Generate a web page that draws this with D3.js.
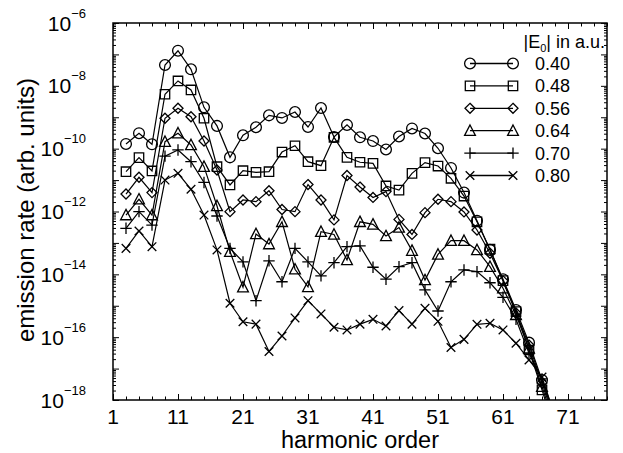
<!DOCTYPE html>
<html><head><meta charset="utf-8">
<script src="https://cdn.jsdelivr.net/npm/d3@7"></script>
<style>
body{margin:0;background:#fff;}
svg{display:block;font-family:"Liberation Sans",Arial,Helvetica,sans-serif;}
</style></head>
<body><svg id="c" width="623" height="453"></svg>
<script>
// harmonic orders (odd)
const harmonics = [3,5,7,9,11,13,15,17,19,21,23,25,27,29,31,33,35,37,39,41,43,45,47,49,51,53,55,57,59,61,63,65,67,69];
const fieldLabels = ["0.40","0.48","0.56","0.64","0.70","0.80"];
const symbols = ["circle","square","diamond","triangle","plus","cross"];
const rate040 = [1.41e-10,3.1e-10,1.38e-10,4.6e-8,1.31e-7,3.36e-8,2.07e-9,5.3e-10,5.3e-11,2.67e-10,4.8e-10,1.15e-9,9.5e-10,1.47e-9,4.9e-10,1.97e-9,2.35e-10,5.7e-10,2.3e-10,1.75e-10,9.4e-11,2.44e-10,4.4e-10,3.04e-10,1.03e-10,2.43e-11,4.0e-12,5.1e-13,6.0e-14,7.0e-15,7.3e-16,6.7e-17,4.3e-18,2.5e-19];
const rate048 = [1.85e-11,5.2e-11,1.95e-11,5.4e-9,1.43e-8,7.4e-9,9.3e-10,2.67e-11,7.0e-12,1.99e-11,1.77e-11,1.85e-11,7.8e-11,1.24e-10,3.85e-11,2.87e-11,2.3e-10,5.3e-11,3.7e-11,3.4e-11,6.5e-12,4.8e-12,1.64e-11,3.6e-11,2.8e-11,1.14e-11,3.1e-12,4.7e-13,6.3e-14,6.3e-15,6.5e-16,3.9e-17,2.1e-18,1.0e-19];
const rate056 = [3.6e-12,1.23e-11,4.0e-12,9.3e-10,1.93e-9,1.04e-9,1.75e-10,2.1e-11,9.9e-13,2.33e-12,2.06e-12,4.6e-12,1.16e-12,9.9e-13,7.2e-12,2.33e-12,5.4e-13,1.4e-11,6.0e-12,2.8e-12,4.3e-12,5.6e-13,1.86e-13,9.2e-13,2.45e-12,2.06e-12,9.7e-13,2.58e-13,4.7e-14,6.2e-15,5.9e-16,5.6e-17,3.5e-18,2.0e-19];
const rate064 = [7.7e-13,2.45e-12,7.7e-13,1.67e-10,3.1e-10,1.31e-10,2.67e-11,1.5e-12,5.3e-14,3.9e-15,1.93e-13,9.2e-14,4.7e-13,1.45e-14,4.0e-15,2.28e-13,1.86e-13,2.86e-14,4.7e-13,3.9e-13,1.66e-13,3.1e-13,5.7e-14,6.6e-15,4.3e-14,1.18e-13,1.18e-13,6.0e-14,1.75e-14,3.6e-15,5.1e-16,4.4e-17,2.65e-18,1.5e-19];
const rate070 = [2.92e-13,9.9e-13,3.7e-13,5.8e-11,9.1e-11,3.85e-11,8.4e-12,7.2e-13,6.7e-14,2.5e-14,1.45e-15,2.7e-14,5.8e-15,6.7e-14,2.5e-14,8.9e-15,2.35e-14,7.6e-14,8.0e-14,1.68e-14,7.0e-15,1.75e-14,2.35e-14,3.2e-15,6.8e-16,5.8e-15,1.38e-14,1.22e-14,5.4e-15,1.86e-15,3.7e-16,3.1e-17,4.7e-18,3.0e-19];
const rate080 = [6.7e-14,2.4e-13,7.6e-14,1.0e-11,1.64e-11,5.1e-12,7.7e-13,6.0e-14,1.2e-15,3.1e-16,2.6e-16,3.5e-17,1.09e-16,4.1e-16,1.45e-15,5.5e-16,2.07e-16,1.7e-16,2.6e-16,3.7e-16,2.27e-16,7.0e-16,2.6e-16,8.3e-16,3.2e-16,4.7e-17,8.5e-17,2.57e-16,2.77e-16,1.7e-16,6.4e-17,1.88e-17,5.4e-18,3.0e-19];
const seriesValues = [rate040,rate048,rate056,rate064,rate070,rate080];
const xTickLabels = [1,11,21,31,41,51,61,71];
const yLabelExponents = [-6,-8,-10,-12,-14,-16,-18];

const svg = d3.select("#c");
const L=113,R=607,T=23,B=400;
const x = d3.scaleLinear().domain([1,77]).range([L,R]);
const y = d3.scaleLog().domain([1e-18,1e-6]).range([B,T]);

svg.append("defs").append("clipPath").attr("id","clip")
  .append("rect").attr("x",L).attr("y",T).attr("width",R-L).attr("height",B-T);

const majorY = d3.range(-18,-5).map(e=>Math.pow(10,e));
const minorY = [];
for(let e=-18;e<-6;e++) for(let k=2;k<=9;k++) minorY.push(k*Math.pow(10,e));
const oddX = d3.range(1,78,2);
const majX = xTickLabels;
const minX = oddX.filter(v=>!majX.includes(v));

function styleAxis(g){ g.select(".domain").remove(); g.selectAll("line").attr("stroke","#000").attr("stroke-width",1); g.selectAll("text").remove(); }
svg.append("g").attr("transform",`translate(${L},0)`).call(d3.axisLeft(y).tickValues(majorY).tickSize(-6).tickFormat("")).call(styleAxis);
svg.append("g").attr("transform",`translate(${L},0)`).call(d3.axisLeft(y).tickValues(minorY).tickSize(-3).tickFormat("")).call(styleAxis);
svg.append("g").attr("transform",`translate(${R},0)`).call(d3.axisRight(y).tickValues(majorY).tickSize(-6).tickFormat("")).call(styleAxis);
svg.append("g").attr("transform",`translate(${R},0)`).call(d3.axisRight(y).tickValues(minorY).tickSize(-3).tickFormat("")).call(styleAxis);
svg.append("g").attr("transform",`translate(0,${B})`).call(d3.axisBottom(x).tickValues(majX).tickSize(-6).tickFormat("")).call(styleAxis);
svg.append("g").attr("transform",`translate(0,${B})`).call(d3.axisBottom(x).tickValues(minX).tickSize(-3.5).tickFormat("")).call(styleAxis);
svg.append("g").attr("transform",`translate(0,${T})`).call(d3.axisTop(x).tickValues(majX).tickSize(-6).tickFormat("")).call(styleAxis);
svg.append("g").attr("transform",`translate(0,${T})`).call(d3.axisTop(x).tickValues(minX).tickSize(-3.5).tickFormat("")).call(styleAxis);

svg.append("rect").attr("x",L).attr("y",T).attr("width",R-L).attr("height",B-T)
  .attr("fill","none").attr("stroke","#000").attr("stroke-width",1.5);

yLabelExponents.forEach(e=>{
  const t = svg.append("text").attr("x",86).attr("y",y(Math.pow(10,e))+7.5)
    .attr("text-anchor","end").attr("font-size",21).attr("fill","#000");
  t.append("tspan").text("10");
  t.append("tspan").attr("dy",-13).attr("font-size",13).text("\u2212"+Math.abs(e));
});
xTickLabels.forEach(v=>{
  svg.append("text").attr("x",x(v)).attr("y",424).attr("text-anchor","middle")
    .attr("font-size",21).attr("fill","#000").text(v);
});
svg.append("text").attr("transform","translate(34,210) rotate(-90)").attr("text-anchor","middle")
  .attr("font-size",24).attr("fill","#000").text("emission rate (arb. units)");
svg.append("text").attr("x",360).attr("y",448).attr("text-anchor","middle")
  .attr("font-size",23.5).attr("fill","#000").text("harmonic order");

function sym(type){
  switch(type){
    case "circle": { const r=5.4; return `M${r},0A${r},${r} 0 1,1 ${-r},0A${r},${r} 0 1,1 ${r},0Z`; }
    case "square": { const s=4.7; return `M${-s},${-s}H${s}V${s}H${-s}Z`; }
    case "diamond": { const s=5; return `M0,${-s}L${s},0L0,${s}L${-s},0Z`; }
    case "triangle": { const w=5.4,h=4.7; return `M0,${-h-1}L${w},${h}L${-w},${h}Z`; }
    case "plus": { const s=5.7; return `M${-s},0H${s}M0,${-s}V${s}`; }
    case "cross": { const s=4.3; return `M${-s},${-s}L${s},${s}M${-s},${s}L${s},${-s}`; }
  }
}

const plot = svg.append("g").attr("clip-path","url(#clip)");
const line = d3.line().x(d=>x(d[0])).y(d=>y(d[1]));
seriesValues.forEach((vals,i)=>{
  const pts = harmonics.map((h,j)=>[h,vals[j]]);
  plot.append("path").attr("d",line(pts)).attr("fill","none").attr("stroke","#000").attr("stroke-width",1.2);
  plot.selectAll(null).data(pts).enter().append("path")
    .attr("transform",d=>`translate(${x(d[0])},${y(d[1])})`)
    .attr("d",sym(symbols[i])).attr("fill","none").attr("stroke","#000").attr("stroke-width",1.3);
});

const lt = svg.append("text").attr("x",605).attr("y",48).attr("text-anchor","end").attr("font-size",18).attr("fill","#000");
lt.append("tspan").text("|E");
lt.append("tspan").attr("font-size",11).attr("dy",4).text("0");
lt.append("tspan").attr("dy",-4).text("| in a.u.");
fieldLabels.forEach((lab,i)=>{
  const yy = 63.5 + i*22.4;
  const g = svg.append("g");
  g.append("line").attr("x1",470).attr("x2",513).attr("y1",yy).attr("y2",yy).attr("stroke","#000").attr("stroke-width",1.3);
  [470,513].forEach(xx=>g.append("path").attr("transform",`translate(${xx},${yy})`).attr("d",sym(symbols[i])).attr("fill","none").attr("stroke","#000").attr("stroke-width",1.3));
  g.append("text").attr("x",535).attr("y",yy+6.5).attr("font-size",18).attr("fill","#000").text(lab);
});
</script></body></html>
